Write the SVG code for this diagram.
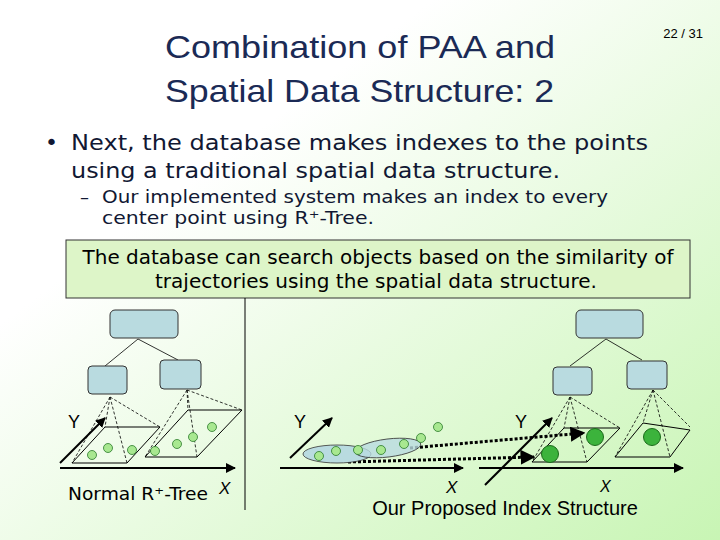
<svg xmlns="http://www.w3.org/2000/svg" width="720" height="540" viewBox="0 0 720 540">
<defs>
<linearGradient id="bg" x1="0" y1="0" x2="1" y2="1"><stop offset="0.3" stop-color="#ffffff"/><stop offset="1" stop-color="#c8f5b4"/></linearGradient>
<marker id="ah" viewBox="0 0 10 10" refX="9" refY="5" markerWidth="5" markerHeight="5" orient="auto"><path d="M0,0L10,5L0,10z" fill="#000"/></marker>
<style>
.t{font-family:"Liberation Sans",Arial,sans-serif}
.d{font-family:"DejaVu Sans",sans-serif}
.node{fill:#b9dbe0;stroke:#333;stroke-width:1}
.ln{stroke:#000;stroke-width:0.8;fill:none}
.dl{stroke:#000;stroke-width:0.8;stroke-dasharray:3,2;fill:none}
.ax{stroke:#000;stroke-width:2;fill:none}
.pl{fill:none;stroke:#000;stroke-width:1}
.sd{fill:#a8e890;stroke:#2a7a2a;stroke-width:0.8}
.bd{fill:#3cb33c;stroke:#1a6a1a;stroke-width:1}
.dot{stroke:#000;stroke-width:3;stroke-dasharray:3,2;fill:none}
</style>
</defs>
<rect width="720" height="540" fill="url(#bg)"/>
<g id="title" class="t" fill="#1b2a55" font-size="32">
<text x="165" y="58" textLength="390" lengthAdjust="spacingAndGlyphs">Combination of PAA and</text>
<text x="165" y="102" textLength="389" lengthAdjust="spacingAndGlyphs">Spatial Data Structure: 2</text>
</g>
<text class="t" x="703" y="38" font-size="13" text-anchor="end">22 / 31</text>
<g class="d" fill="#111833">
<text x="45" y="150" font-size="22">•</text>
<text x="71" y="150" font-size="22" textLength="577" lengthAdjust="spacingAndGlyphs">Next, the database makes indexes to the points</text>
<text x="71" y="178" font-size="22" textLength="489" lengthAdjust="spacingAndGlyphs">using a traditional spatial data structure.</text>
<text x="80" y="203" font-size="18">–</text>
<text x="102" y="203" font-size="18" textLength="506" lengthAdjust="spacingAndGlyphs">Our implemented system makes an index to every</text>
<text x="102" y="224" font-size="18" textLength="272" lengthAdjust="spacingAndGlyphs">center point using R⁺-Tree.</text>
</g>
<g id="box">
<rect x="66" y="240" width="624" height="58" fill="#ddf5c8" stroke="#333" stroke-width="1"/>
<text class="d" x="378" y="264" font-size="19" text-anchor="middle" textLength="591" lengthAdjust="spacingAndGlyphs">The database can search objects based on the similarity of</text>
<text class="d" x="376" y="288" font-size="19" text-anchor="middle" textLength="442" lengthAdjust="spacingAndGlyphs">trajectories using the spatial data structure.</text>
</g>
<line x1="245" y1="298" x2="245" y2="510" stroke="#000" stroke-width="1"/>
<g id="connectors">
<line class="ln" x1="138" y1="339" x2="105" y2="366"/><line class="ln" x1="138" y1="339" x2="178" y2="360"/>
<line class="ln" x1="606" y1="339" x2="570" y2="366"/><line class="ln" x1="606" y1="339" x2="642" y2="360"/>
<path class="dl" d="M110,397L72,463M110,397L127,463M110,397L160,427M110,397L105,427"/>
<path class="dl" d="M187,390L145,457M187,390L197,457M187,390L242,410M187,390L188,410"/>
<path class="dl" d="M570,397L532,462M570,397L587,462M570,397L620,428M570,397L564,428"/>
<path class="dl" d="M653,390L615,457M653,390L670,457M653,390L690,427M653,390L643,423"/>
<line class="dot" x1="410" y1="448" x2="584" y2="433" marker-end="url(#ah)"/>
<line class="dot" x1="348" y1="462" x2="534" y2="457" marker-end="url(#ah)"/>
</g>
<g id="left-tree">
<rect class="node" x="110" y="310" width="68" height="28" rx="5"/>
<rect class="node" x="88" y="366" width="39" height="28" rx="4"/>
<rect class="node" x="160" y="360" width="41" height="29" rx="4"/>
<polygon class="pl" points="72,463 127,463 160,427 105,427"/>
<polygon class="pl" points="145,457 197,457 242,410 188,410"/>
<line class="ax" x1="60" y1="463" x2="105" y2="418" marker-end="url(#ah)"/>
<line class="ax" x1="60" y1="468" x2="235" y2="468" marker-end="url(#ah)"/>
<g class="sd"><circle cx="92" cy="455" r="4.5"/><circle cx="108" cy="448" r="4.5"/><circle cx="132" cy="450" r="4.5"/><circle cx="155" cy="451" r="4.5"/><circle cx="177" cy="444" r="4.5"/><circle cx="193" cy="437" r="4.5"/><circle cx="212" cy="427" r="4.5"/></g>
<text class="t" x="68" y="428" font-size="18">Y</text>
<text class="d" x="68" y="500" font-size="17" textLength="140" lengthAdjust="spacingAndGlyphs">Normal R⁺-Tree</text>
<text class="t" x="219" y="494" font-size="17" font-style="italic">X</text>
</g>
<g id="middle">
<ellipse cx="337" cy="454" rx="34" ry="9" fill="#b9dbe0" stroke="#333" stroke-width="0.8"/>
<ellipse cx="388" cy="448" rx="33" ry="9" fill="#b9dbe0" fill-opacity="0.8" stroke="#333" stroke-width="0.8" transform="rotate(-7 388 448)"/>
<g class="sd"><circle cx="319" cy="456" r="4.5"/><circle cx="336" cy="451" r="4.5"/><circle cx="358" cy="450" r="4.5"/><circle cx="381" cy="450" r="4.5"/><circle cx="404" cy="444" r="4.5"/><circle cx="421" cy="438" r="4.5"/><circle cx="438" cy="427" r="4.5"/></g>
<line class="ax" x1="290" y1="458" x2="332" y2="418" marker-end="url(#ah)"/>
<line class="ax" x1="280" y1="468" x2="463" y2="468" marker-end="url(#ah)"/>
<text class="t" x="294" y="428" font-size="18">Y</text>
<text class="t" x="446" y="493" font-size="17" font-style="italic">X</text>
</g>
<g id="right-tree">
<rect class="node" x="576" y="310" width="67" height="28" rx="5"/>
<rect class="node" x="553" y="367" width="39" height="28" rx="4"/>
<rect class="node" x="627" y="361" width="40" height="28" rx="4"/>
<polygon class="pl" points="532,462 587,462 620,428 564,428"/>
<polygon class="pl" points="615,457 670,457 690,430 643,423"/>
<line class="ax" x1="485" y1="485" x2="552" y2="418" marker-end="url(#ah)"/>
<line class="ax" x1="479" y1="468" x2="683" y2="468" marker-end="url(#ah)"/>
<g class="bd"><circle cx="550" cy="454" r="8.5"/><circle cx="595" cy="437" r="8.5"/><circle cx="652" cy="437" r="8.5"/></g>
<text class="t" x="515" y="428" font-size="18">Y</text>
<text class="t" x="600" y="492" font-size="16" font-style="italic">X</text>
</g>
<text class="t" x="505" y="515" font-size="20" text-anchor="middle">Our Proposed Index Structure</text>
</svg>
